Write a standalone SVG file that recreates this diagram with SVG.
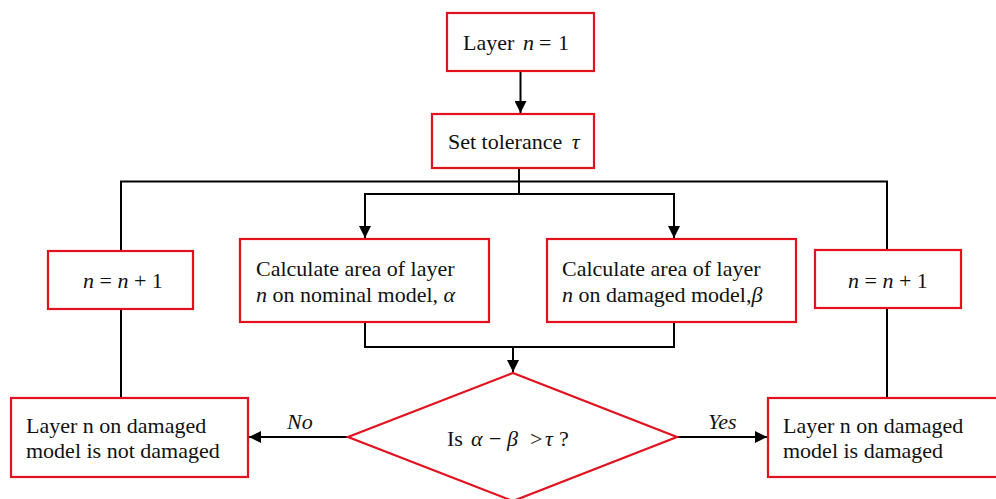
<svg xmlns="http://www.w3.org/2000/svg" width="996" height="499" viewBox="0 0 996 499" font-family="'Liberation Serif', 'DejaVu Serif', 'Times New Roman', Times, serif">
<style>
.box{fill:#fff;stroke:#e3101e;stroke-width:2.2}
.ln{fill:none;stroke:#000;stroke-width:2}
text{font-family:"Liberation Serif","DejaVu Serif","Times New Roman",Times,serif;font-size:22px;fill:#111}
.m{font-style:italic}
</style>
<defs>
<marker id="ah" viewBox="0 0 10 10" refX="10" refY="5" markerWidth="14" markerHeight="12" markerUnits="userSpaceOnUse" orient="auto">
<path d="M0,0 L10,5 L0,10 Z" fill="#000"/>
</marker>
</defs>
<rect width="996" height="499" fill="#fff"/>
<g id="connectors">
<line class="ln" x1="520.5" y1="71" x2="520.5" y2="113" marker-end="url(#ah)"/>
<line class="ln" x1="519" y1="168" x2="519" y2="194"/>
<polyline class="ln" points="121,251 121,181.5 887,181.5 887,250"/>
<line class="ln" x1="121" y1="309" x2="121" y2="398"/>
<line class="ln" x1="887" y1="308" x2="887" y2="398"/>
<polyline class="ln" points="365,220 365,194 674,194 674,220"/>
<line class="ln" x1="365" y1="210" x2="365" y2="238" marker-end="url(#ah)"/>
<line class="ln" x1="674" y1="210" x2="674" y2="238" marker-end="url(#ah)"/>
<polyline class="ln" points="365,322 365,347 674,347 674,322"/>
<line class="ln" x1="513" y1="347" x2="513" y2="372" marker-end="url(#ah)"/>
<line class="ln" x1="348" y1="437" x2="249" y2="437" marker-end="url(#ah)"/>
<line class="ln" x1="677" y1="437" x2="767" y2="437" marker-end="url(#ah)"/>
<text class="m" x="287" y="429">No</text>
<text class="m" x="708" y="429">Yes</text>
</g>
<g id="n1">
<rect class="box" x="447" y="13" width="147" height="58"/>
<text x="463" y="50">Layer <tspan class="m" x="523">n</tspan><tspan x="539">=</tspan><tspan x="558">1</tspan></text>
</g>
<g id="tol">
<rect class="box" x="432" y="114" width="162" height="54"/>
<text x="448" y="149">Set tolerance <tspan class="m" dx="4">τ</tspan></text>
</g>
<g id="incL">
<rect class="box" x="48" y="251" width="145" height="58"/>
<text x="83" y="288"><tspan class="m">n</tspan> = <tspan class="m">n</tspan> + 1</text>
</g>
<g id="nominal">
<rect class="box" x="240" y="239" width="249" height="83"/>
<text x="256" y="276">Calculate area of layer</text>
<text x="256" y="302"><tspan class="m">n</tspan> on nominal model, <tspan class="m">α</tspan></text>
</g>
<g id="damagedCalc">
<rect class="box" x="547" y="239" width="249" height="83"/>
<text x="562" y="276">Calculate area of layer</text>
<text x="562" y="302"><tspan class="m">n</tspan> on damaged model,<tspan class="m">β</tspan></text>
</g>
<g id="incR">
<rect class="box" x="815" y="250" width="146" height="58"/>
<text x="848" y="288"><tspan class="m">n</tspan> = <tspan class="m">n</tspan> + 1</text>
</g>
<g id="decision">
<polygon class="box" points="513,373 677,437 513,501 348,437"/>
<text x="447" y="446">Is<tspan class="m" x="471">α</tspan><tspan x="489">−</tspan><tspan class="m" x="507">β</tspan><tspan x="530">&gt;</tspan><tspan class="m" x="545">τ</tspan><tspan x="559">?</tspan></text>
</g>
<g id="notDamaged">
<rect class="box" x="11" y="398" width="237" height="79"/>
<text x="26" y="433">Layer n on damaged</text>
<text x="26" y="458">model is not damaged</text>
</g>
<g id="damaged">
<rect class="box" x="768" y="398" width="240" height="79"/>
<text x="783" y="433">Layer n on damaged</text>
<text x="783" y="458">model is damaged</text>
</g>
</svg>
